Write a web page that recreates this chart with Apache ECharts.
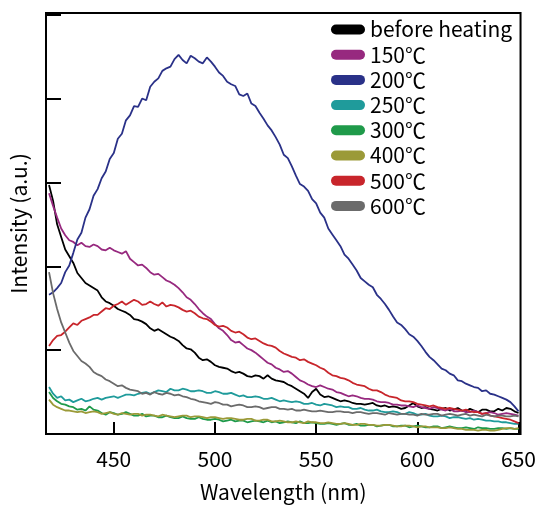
<!DOCTYPE html>
<html>
<head>
<meta charset="utf-8">
<script src="https://cdn.jsdelivr.net/npm/echarts@6/dist/echarts.min.js"></script>
<style>html,body{margin:0;padding:0;background:#fff}#c{width:539px;height:508px}</style>
</head>
<body>
<div id="c"></div>
<script>
const wavelength = [418,420,422,424,426,428,430,432,434,436,438,440,442,444,446,448,450,452,454,456,458,460,462,464,466,468,470,472,474,476,478,480,482,484,486,488,490,492,494,496,498,500,502,504,506,508,510,512,514,516,518,520,522,524,526,528,530,532,534,536,538,540,542,544,546,548,550,552,554,556,558,560,562,564,566,568,570,572,574,576,578,580,582,584,586,588,590,592,594,596,598,600,602,604,606,608,610,612,614,616,618,620,622,624,626,628,630,632,634,636,638,640,642,644,646,648,650];
const seriesNames = ['before heating','150℃','200℃','250℃','300℃','400℃','500℃','600℃'];
const seriesColors = ['#000000','#97297f','#2a3188','#1f9b9b','#1f9a4a','#9b9a38','#c8252b','#6b6b6b'];
const xTicks = [450,500,550,600,650];
const yTicks = [0,1,2,3,4,5];

const beforeHeating = [2.97,2.78,2.50,2.35,2.20,2.12,2.04,1.92,1.86,1.80,1.77,1.74,1.71,1.63,1.58,1.56,1.53,1.49,1.47,1.45,1.42,1.37,1.36,1.34,1.31,1.26,1.23,1.25,1.22,1.19,1.16,1.14,1.11,1.06,1.02,1.01,0.97,0.91,0.88,0.89,0.86,0.82,0.80,0.79,0.78,0.75,0.73,0.74,0.72,0.69,0.68,0.70,0.69,0.66,0.70,0.66,0.64,0.63,0.62,0.59,0.57,0.54,0.51,0.48,0.43,0.50,0.54,0.47,0.44,0.45,0.43,0.41,0.39,0.40,0.39,0.37,0.36,0.36,0.35,0.36,0.37,0.34,0.33,0.34,0.32,0.33,0.32,0.30,0.31,0.34,0.37,0.33,0.31,0.32,0.30,0.29,0.28,0.30,0.31,0.28,0.29,0.31,0.28,0.27,0.30,0.28,0.26,0.29,0.29,0.27,0.27,0.30,0.28,0.31,0.30,0.27,0.25];
const t150 = [2.87,2.72,2.58,2.45,2.37,2.31,2.29,2.25,2.28,2.24,2.23,2.26,2.24,2.20,2.19,2.22,2.19,2.17,2.15,2.18,2.09,2.05,2.01,2.02,1.98,1.93,1.90,1.91,1.87,1.83,1.81,1.78,1.74,1.69,1.63,1.60,1.55,1.49,1.44,1.40,1.37,1.31,1.26,1.23,1.18,1.12,1.09,1.10,1.06,1.02,1.00,0.97,0.93,0.89,0.85,0.83,0.79,0.77,0.74,0.75,0.72,0.68,0.64,0.62,0.59,0.57,0.56,0.58,0.56,0.54,0.53,0.50,0.49,0.47,0.45,0.46,0.45,0.43,0.42,0.42,0.41,0.39,0.38,0.38,0.37,0.35,0.35,0.34,0.34,0.33,0.32,0.34,0.32,0.31,0.30,0.32,0.31,0.29,0.28,0.30,0.27,0.27,0.28,0.26,0.26,0.28,0.26,0.24,0.25,0.26,0.25,0.23,0.24,0.25,0.24,0.23,0.22];
const t200 = [1.66,1.69,1.74,1.80,1.93,2.01,2.16,2.32,2.40,2.58,2.68,2.84,2.92,3.05,3.13,3.28,3.35,3.52,3.58,3.74,3.80,3.91,3.90,4.00,3.98,4.14,4.20,4.24,4.33,4.36,4.38,4.47,4.52,4.46,4.42,4.51,4.48,4.44,4.42,4.49,4.44,4.38,4.31,4.27,4.20,4.17,4.15,4.05,4.03,4.06,3.94,3.91,3.83,3.76,3.68,3.62,3.54,3.45,3.33,3.29,3.19,3.08,2.98,2.95,2.90,2.80,2.75,2.64,2.58,2.45,2.38,2.31,2.24,2.14,2.09,2.02,1.95,1.86,1.82,1.78,1.75,1.66,1.61,1.55,1.48,1.40,1.33,1.30,1.25,1.19,1.16,1.11,1.05,0.98,0.92,0.88,0.83,0.78,0.76,0.72,0.70,0.64,0.63,0.60,0.58,0.56,0.55,0.51,0.52,0.48,0.47,0.45,0.43,0.41,0.38,0.33,0.27];
const t250 = [0.56,0.48,0.43,0.45,0.40,0.41,0.38,0.40,0.42,0.39,0.40,0.42,0.43,0.41,0.43,0.44,0.45,0.43,0.45,0.47,0.47,0.46,0.48,0.49,0.50,0.48,0.50,0.52,0.51,0.50,0.54,0.52,0.52,0.54,0.53,0.51,0.51,0.52,0.51,0.49,0.49,0.51,0.50,0.48,0.48,0.49,0.47,0.45,0.46,0.44,0.44,0.45,0.44,0.42,0.42,0.43,0.41,0.39,0.40,0.39,0.38,0.39,0.38,0.36,0.36,0.37,0.35,0.34,0.36,0.35,0.34,0.32,0.33,0.32,0.32,0.30,0.30,0.31,0.29,0.28,0.28,0.29,0.27,0.26,0.26,0.27,0.26,0.24,0.24,0.26,0.25,0.23,0.23,0.24,0.22,0.21,0.21,0.22,0.21,0.19,0.20,0.20,0.19,0.18,0.19,0.17,0.18,0.17,0.16,0.16,0.15,0.15,0.14,0.14,0.13,0.12,0.12];
const t300 = [0.50,0.43,0.39,0.36,0.35,0.33,0.32,0.29,0.30,0.28,0.33,0.29,0.28,0.25,0.23,0.26,0.25,0.23,0.24,0.26,0.24,0.22,0.22,0.24,0.21,0.22,0.22,0.20,0.20,0.22,0.20,0.19,0.19,0.21,0.19,0.18,0.18,0.20,0.18,0.17,0.17,0.18,0.17,0.15,0.16,0.17,0.15,0.16,0.16,0.14,0.15,0.16,0.15,0.14,0.16,0.14,0.15,0.13,0.14,0.15,0.14,0.13,0.15,0.13,0.13,0.14,0.13,0.12,0.12,0.13,0.12,0.11,0.12,0.13,0.11,0.11,0.12,0.10,0.10,0.11,0.11,0.09,0.10,0.11,0.11,0.09,0.09,0.10,0.10,0.08,0.09,0.10,0.09,0.08,0.08,0.09,0.09,0.07,0.08,0.09,0.08,0.07,0.07,0.08,0.07,0.06,0.08,0.07,0.07,0.06,0.06,0.07,0.07,0.06,0.07,0.06,0.06];
const t400 = [0.41,0.35,0.32,0.30,0.28,0.28,0.27,0.26,0.27,0.25,0.26,0.27,0.26,0.24,0.25,0.26,0.24,0.23,0.25,0.24,0.23,0.24,0.24,0.22,0.23,0.23,0.22,0.21,0.23,0.22,0.21,0.20,0.21,0.22,0.22,0.20,0.21,0.21,0.20,0.19,0.20,0.20,0.19,0.18,0.19,0.19,0.18,0.17,0.17,0.18,0.18,0.16,0.16,0.17,0.17,0.15,0.15,0.16,0.15,0.14,0.14,0.15,0.14,0.13,0.15,0.14,0.14,0.13,0.13,0.14,0.13,0.12,0.12,0.13,0.12,0.11,0.11,0.12,0.12,0.11,0.11,0.10,0.10,0.11,0.11,0.10,0.09,0.09,0.10,0.10,0.09,0.08,0.09,0.09,0.08,0.08,0.08,0.07,0.07,0.08,0.07,0.06,0.06,0.05,0.05,0.05,0.04,0.05,0.05,0.04,0.04,0.05,0.06,0.07,0.07,0.06,0.07];
const t500 = [1.05,1.12,1.17,1.18,1.22,1.27,1.32,1.30,1.35,1.37,1.39,1.42,1.42,1.46,1.50,1.49,1.53,1.55,1.58,1.54,1.57,1.60,1.58,1.54,1.55,1.58,1.55,1.53,1.57,1.52,1.54,1.53,1.51,1.48,1.46,1.47,1.44,1.40,1.38,1.37,1.34,1.30,1.28,1.29,1.27,1.23,1.21,1.22,1.19,1.15,1.13,1.14,1.11,1.08,1.06,1.05,1.03,0.99,0.96,0.94,0.92,0.91,0.88,0.89,0.86,0.84,0.82,0.79,0.77,0.73,0.70,0.69,0.67,0.66,0.64,0.61,0.59,0.58,0.57,0.54,0.52,0.52,0.50,0.47,0.45,0.44,0.43,0.40,0.39,0.39,0.38,0.36,0.35,0.34,0.33,0.34,0.32,0.31,0.30,0.31,0.30,0.29,0.28,0.29,0.27,0.26,0.26,0.24,0.25,0.22,0.21,0.20,0.19,0.18,0.17,0.15,0.13];
const t600 = [1.93,1.68,1.49,1.33,1.21,1.09,0.99,0.93,0.87,0.84,0.80,0.74,0.71,0.69,0.65,0.63,0.60,0.57,0.58,0.55,0.53,0.52,0.51,0.48,0.49,0.47,0.50,0.48,0.47,0.49,0.48,0.46,0.47,0.45,0.44,0.42,0.41,0.39,0.38,0.37,0.36,0.38,0.37,0.35,0.35,0.33,0.34,0.35,0.34,0.32,0.32,0.33,0.32,0.30,0.31,0.32,0.32,0.30,0.30,0.29,0.30,0.28,0.28,0.29,0.28,0.27,0.27,0.28,0.27,0.26,0.26,0.27,0.27,0.26,0.26,0.25,0.26,0.26,0.25,0.24,0.25,0.25,0.24,0.23,0.25,0.24,0.23,0.24,0.24,0.23,0.23,0.22,0.24,0.23,0.23,0.24,0.24,0.22,0.23,0.24,0.23,0.22,0.23,0.24,0.22,0.23,0.22,0.21,0.23,0.22,0.21,0.22,0.22,0.21,0.21,0.22,0.21];

const allValues = [beforeHeating,t150,t200,t250,t300,t400,t500,t600];
const FONT = 'Noto Sans CJK JP';

const series = seriesNames.map((name, i) => ({
  name: name,
  type: 'line',
  showSymbol: false,
  symbol: 'none',
  data: wavelength.map((w, j) => [w, allValues[i][j]]).filter(p => p[1] !== undefined),
  lineStyle: { color: seriesColors[i], width: 1.8 },
  itemStyle: { color: seriesColors[i] },
  animation: false,
  z: 2
}));

const chart = echarts.init(document.getElementById('c'), null, { renderer: 'canvas' });
chart.setOption({
  animation: false,
  backgroundColor: '#fff',
  grid: { left: 46, right: 17, top: 13, bottom: 65, show: true, borderColor: '#000', borderWidth: 2, backgroundColor: 'transparent' },
  legend: {
    orient: 'vertical', left: 331, top: 19,
    itemWidth: 34, itemHeight: 10, itemGap: 4.2, padding: 0,
    icon: 'path://M5 0H29A5 5 0 0 1 29 10H5A5 5 0 0 1 5 0Z',
    textStyle: { fontFamily: FONT, fontSize: 21, color: '#000', lineHeight: 21 },
    data: seriesNames
  },
  xAxis: {
    type: 'value', min: 416.5, max: 651,
    axisLine: { show: false },
    splitLine: { show: false },
    axisTick: { show: true, inside: true, length: 12, lineStyle: { color: '#000', width: 2 }, customValues: xTicks },
    axisLabel: { show: true, fontFamily: FONT, fontSize: 21, color: '#000', margin: 15, customValues: xTicks },
    name: 'Wavelength (nm)', nameLocation: 'middle', nameGap: 48,
    nameTextStyle: { fontFamily: FONT, fontSize: 21, color: '#000' }
  },
  yAxis: {
    type: 'value', min: 0, max: 5.02,
    axisLine: { show: false },
    splitLine: { show: false },
    axisTick: { show: true, inside: true, length: 15, lineStyle: { color: '#000', width: 2 }, customValues: yTicks },
    axisLabel: { show: false },
    name: 'Intensity (a.u.)', nameLocation: 'middle', nameGap: 16,
    nameTextStyle: { fontFamily: FONT, fontSize: 21, color: '#000' }
  },
  series: series
});
</script>
</body>
</html>
